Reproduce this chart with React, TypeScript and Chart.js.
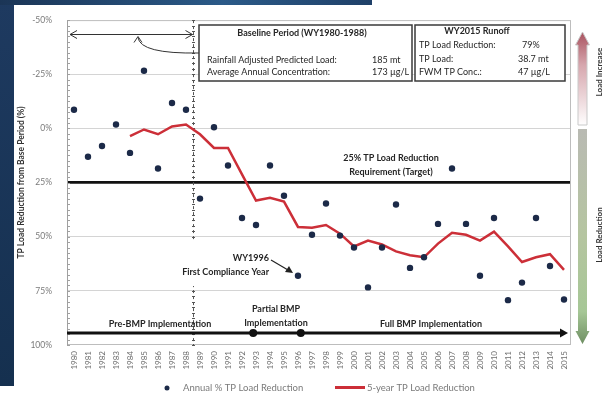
import React, { useEffect, useRef } from 'react';
import { Chart, registerables } from 'chart.js';

Chart.register(...registerables);

const years = ['1980', '1981', '1982', '1983', '1984', '1985', '1986', '1987', '1988', '1989',
  '1990', '1991', '1992', '1993', '1994', '1995', '1996', '1997', '1998', '1999',
  '2000', '2001', '2002', '2003', '2004', '2005', '2006', '2007', '2008', '2009',
  '2010', '2011', '2012', '2013', '2014', '2015'];

const annualReduction = [-8.6, 13.1, 8.1, -1.8, 11.3, -26.6, 18.5, -11.7, -8.6, 32.4,
  -0.5, 17.1, 41.4, 44.6, 17.1, 31.1, 68, 49.1, 34.7, 49.5,
  55, 73.4, 55, 35.1, 64.4, 59.5, 44.1, 18.5, 44.1, 68,
  41.4, 79.3, 71.2, 41.4, 63.5, 79];

const fiveYearReduction = [null, null, null, null, 3.6, 0.5, 2.7, -0.9, -1.8, 2.7,
  9, 9, 21.2, 33.3, 32, 33.8, 45.5, 45.9, 44.6, 48.6,
  54.5, 51.8, 53.6, 56.8, 58.6, 59.5, 53.2, 48.2, 49.1, 51.8,
  47.7, 54.5, 61.7, 59.5, 58.1, 65.3];

const yTicks = [-50, -25, 0, 25, 50, 75, 100];
const targetValue = 25;
const timelineValue = 94.5;
const baselineEndIndex = 8.5;
const partialStartIndex = 12.8;
const fullStartIndex = 16.2;

const FONT = 'Lato, "Liberation Sans", Arial, sans-serif';

function font(size: number, bold = false) {
  return `${bold ? 'bold ' : ''}${size}px ${FONT}`;
}

const overlay = {
  id: 'overlay',
  beforeDatasetsDraw(chart: any) {
    const { ctx, chartArea: a, scales } = chart;
    const x = scales.x;
    const y = scales.y;
    ctx.save();
    ctx.strokeStyle = '#bdbdbd';
    ctx.lineWidth = 1;
    ctx.strokeRect(a.left + 0.5, a.top + 0.5, a.width - 1, a.height - 1);
    ctx.strokeStyle = '#a0a0a0';
    ctx.beginPath();
    ctx.moveTo(a.left + 0.5, a.top);
    ctx.lineTo(a.left + 0.5, a.bottom);
    ctx.stroke();
    for (let v = -50; v <= 100; v += 2.5) {
      const py = Math.round(y.getPixelForValue(v)) + 0.5;
      ctx.beginPath();
      ctx.moveTo(a.left, py);
      ctx.lineTo(a.left + 3, py);
      ctx.stroke();
    }
    const xd = Math.round(x.getPixelForValue(baselineEndIndex)) + 0.5;
    ctx.strokeStyle = '#555';
    ctx.setLineDash([3, 3]);
    ctx.beginPath();
    ctx.moveTo(xd, a.top);
    ctx.lineTo(xd, a.bottom);
    ctx.stroke();
    ctx.setLineDash([]);
    for (let v = -50; v <= 100; v += 2.5) {
      const py = Math.round(y.getPixelForValue(v)) + 0.5;
      ctx.beginPath();
      ctx.moveTo(xd - 1.5, py);
      ctx.lineTo(xd + 1.5, py);
      ctx.stroke();
    }

    const ya = Math.round(y.getPixelForValue(-43.5)) + 0.5;
    const xl = a.left + 3;
    const xr = xd - 1;
    ctx.strokeStyle = '#333';
    ctx.lineWidth = 1;
    ctx.beginPath();
    ctx.moveTo(xl, ya);
    ctx.lineTo(xr, ya);
    ctx.moveTo(xl + 7, ya - 4);
    ctx.lineTo(xl, ya);
    ctx.lineTo(xl + 7, ya + 4);
    ctx.moveTo(xr - 7, ya - 4);
    ctx.lineTo(xr, ya);
    ctx.lineTo(xr - 7, ya + 4);
    ctx.stroke();

    ctx.beginPath();
    ctx.moveTo(199, 53);
    ctx.quadraticCurveTo(140, 54, 138, ya + 3);
    ctx.moveTo(134, ya + 8);
    ctx.lineTo(138, ya + 2);
    ctx.lineTo(142, ya + 8);
    ctx.stroke();

    const yt = y.getPixelForValue(timelineValue);
    const xend = x.getPixelForValue(years.length - 1) + 4;
    ctx.strokeStyle = '#111';
    ctx.lineWidth = 3;
    ctx.beginPath();
    ctx.moveTo(a.left, yt);
    ctx.lineTo(xend - 6, yt);
    ctx.stroke();
    ctx.fillStyle = '#111';
    ctx.beginPath();
    ctx.moveTo(xend, yt);
    ctx.lineTo(xend - 8, yt - 4.5);
    ctx.lineTo(xend - 8, yt + 4.5);
    ctx.closePath();
    ctx.fill();
    [partialStartIndex, fullStartIndex].forEach((idx) => {
      ctx.beginPath();
      ctx.arc(x.getPixelForValue(idx), yt, 4, 0, Math.PI * 2);
      ctx.fill();
    });
    ctx.restore();
  },
  afterDatasetsDraw(chart: any) {
    const { ctx } = chart;
    ctx.save();
    ctx.fillStyle = '#262626';
    ctx.textBaseline = 'middle';

    ctx.fillStyle = '#fff';
    ctx.fillRect(199, 25, 213, 56);
    ctx.strokeStyle = '#3a3a3a';
    ctx.lineWidth = 1.5;
    ctx.strokeRect(199, 25, 213, 56);
    ctx.fillStyle = '#262626';
    ctx.textAlign = 'center';
    ctx.font = font(9, true);
    ctx.fillText('Baseline Period (WY1980-1988)', 302, 33);
    ctx.font = font(9);
    ctx.textAlign = 'left';
    ctx.fillText('Rainfall Adjusted Predicted Load:', 207, 60);
    ctx.fillText('Average Annual Concentration:', 207, 72);
    ctx.fillText('185 mt', 372, 60);
    ctx.fillText('173 \u00b5g/L', 372, 72);

    ctx.fillStyle = '#fff';
    ctx.fillRect(415, 25, 150, 56);
    ctx.strokeRect(415, 25, 150, 56);
    ctx.fillStyle = '#262626';
    ctx.textAlign = 'center';
    ctx.font = font(9, true);
    ctx.fillText('WY2015 Runoff', 477, 31);
    ctx.font = font(9);
    ctx.textAlign = 'left';
    ctx.fillText('TP Load Reduction:', 419, 45);
    ctx.fillText('TP Load:', 419, 59);
    ctx.fillText('FWM TP Conc.:', 419, 72);
    ctx.fillText('79%', 522, 45);
    ctx.fillText('38.7 mt', 518, 59);
    ctx.fillText('47 \u00b5g/L', 518, 72);

    ctx.textAlign = 'center';
    ctx.font = font(9, true);
    ctx.fillText('25% TP Load Reduction', 391, 158);
    ctx.fillText('Requirement (Target)', 391, 172);

    ctx.fillStyle = '#fff';
    ctx.fillRect(172, 241, 100, 45);
    ctx.fillStyle = '#262626';
    ctx.textAlign = 'right';
    ctx.font = font(9, true);
    ctx.fillText('WY1996', 269, 258);
    ctx.fillText('First Compliance Year', 269, 272);
    ctx.strokeStyle = '#222';
    ctx.lineWidth = 1.2;
    ctx.beginPath();
    ctx.moveTo(271, 260);
    ctx.lineTo(288, 270);
    ctx.stroke();
    ctx.fillStyle = '#222';
    ctx.beginPath();
    ctx.moveTo(293, 273);
    ctx.lineTo(285, 272);
    ctx.lineTo(289, 266);
    ctx.closePath();
    ctx.fill();

    ctx.fillStyle = '#262626';
    ctx.textAlign = 'center';
    ctx.font = font(9, true);
    ctx.fillText('Pre-BMP Implementation', 160, 324);
    ctx.fillText('Partial BMP', 276, 309);
    ctx.fillText('Implementation', 276, 323);
    ctx.fillText('Full BMP Implementation', 431, 324);
    ctx.restore();
  },
  afterDraw(chart: any) {
    const { ctx } = chart;
    ctx.save();
    ctx.textBaseline = 'middle';
    ctx.fillStyle = '#1c2a48';
    ctx.beginPath();
    ctx.arc(167, 388, 2.5, 0, Math.PI * 2);
    ctx.fill();
    ctx.fillStyle = '#7a7a7a';
    ctx.font = font(9.5);
    ctx.textAlign = 'left';
    ctx.fillText('Annual % TP Load Reduction', 183, 388);
    ctx.strokeStyle = '#cc2f38';
    ctx.lineWidth = 3;
    ctx.beginPath();
    ctx.moveTo(335, 387.5);
    ctx.lineTo(365, 387.5);
    ctx.stroke();
    ctx.fillText('5-year TP Load Reduction', 367, 388);

    const cx = 582.5;
    let g = ctx.createLinearGradient(0, 32, 0, 126);
    g.addColorStop(0, '#a9525f');
    g.addColorStop(0.35, '#d6a6ad');
    g.addColorStop(1, '#ffffff');
    ctx.fillStyle = g;
    ctx.beginPath();
    ctx.moveTo(cx, 32);
    ctx.lineTo(cx + 7, 45);
    ctx.lineTo(cx + 4.5, 45);
    ctx.lineTo(cx + 4.5, 125);
    ctx.lineTo(cx - 4.5, 125);
    ctx.lineTo(cx - 4.5, 45);
    ctx.lineTo(cx - 7, 45);
    ctx.closePath();
    ctx.fill();
    ctx.strokeStyle = '#c9c9c9';
    ctx.lineWidth = 1;
    ctx.stroke();

    g = ctx.createLinearGradient(0, 129, 0, 344);
    g.addColorStop(0, '#b9bab3');
    g.addColorStop(0.5, '#b5c5a0');
    g.addColorStop(0.85, '#a6c796');
    g.addColorStop(1, '#6f8f63');
    ctx.fillStyle = g;
    ctx.beginPath();
    ctx.moveTo(cx - 4.5, 129);
    ctx.lineTo(cx + 4.5, 129);
    ctx.lineTo(cx + 4.5, 331);
    ctx.lineTo(cx + 7, 331);
    ctx.lineTo(cx, 344);
    ctx.lineTo(cx - 7, 331);
    ctx.lineTo(cx - 4.5, 331);
    ctx.closePath();
    ctx.fill();

    ctx.fillStyle = '#333';
    ctx.font = font(8, true);
    ctx.textAlign = 'center';
    ctx.translate(599, 72);
    ctx.rotate(-Math.PI / 2);
    ctx.fillText('Load Increase', 0, 0);
    ctx.rotate(Math.PI / 2);
    ctx.translate(0, 163);
    ctx.rotate(-Math.PI / 2);
    ctx.fillText('Load Reduction', 0, 0);
    ctx.restore();
  },
};

export default function App() {
  const ref = useRef<HTMLCanvasElement | null>(null);

  useEffect(() => {
    if (!ref.current) return;
    const chart = new Chart(ref.current, {
      type: 'line',
      data: {
        labels: years,
        datasets: [
          {
            label: 'Annual % TP Load Reduction',
            data: annualReduction,
            showLine: false,
            pointRadius: 3.2,
            pointBackgroundColor: '#1c2a48',
            pointBorderColor: '#1c2a48',
            pointBorderWidth: 0,
            order: 1,
          },
          {
            label: '5-year TP Load Reduction',
            data: fiveYearReduction,
            borderColor: '#cc2f38',
            borderWidth: 2.5,
            pointRadius: 0,
            tension: 0,
            spanGaps: false,
            order: 2,
          },
        ],
      },
      options: {
        animation: false,
        responsive: false,
        devicePixelRatio: 1,
        layout: { padding: { left: 0, right: 45, top: 15, bottom: 30 } },
        plugins: { legend: { display: false }, tooltip: { enabled: false } },
        scales: {
          x: {
            type: 'category',
            offset: true,
            grid: { display: false, drawTicks: false },
            border: { display: false },
            ticks: {
              autoSkip: false,
              minRotation: 90,
              maxRotation: 90,
              padding: 6,
              color: '#6e6e6e',
              font: { family: FONT, size: 8 },
            },
            afterFit: (s: any) => {
              s.height = 29;
            },
          },
          y: {
            type: 'linear',
            reverse: true,
            min: -50,
            max: 100,
            afterBuildTicks: (s: any) => {
              s.ticks = yTicks.map((v) => ({ value: v }));
            },
            ticks: {
              callback: (v: any) => `${v}%`,
              padding: 15,
              color: '#7a7a7a',
              font: { family: FONT, size: 8.5 },
            },
            grid: {
              drawTicks: false,
              color: (c: any) => {
                const v = c.tick && c.tick.value;
                if (v === targetValue) return '#111';
                if (v === -50 || v === 100) return 'rgba(0,0,0,0)';
                return '#d4d4d4';
              },
              lineWidth: (c: any) => (c.tick && c.tick.value === targetValue ? 2.8 : 1),
            },
            border: { display: false },
            title: {
              display: true,
              text: 'TP Load Reduction from Base Period (%)',
              color: '#333',
              font: { family: FONT, size: 8.5, weight: 'bold' },
              padding: { top: 16, bottom: 0 },
            },
            afterFit: (s: any) => {
              s.width = 67;
            },
          },
        },
      },
      plugins: [overlay],
    });
    return () => chart.destroy();
  }, []);

  return (
    <div style={{ position: 'fixed', left: 0, top: 0, width: 616, height: 404, background: '#fff', overflow: 'hidden' }}>
      <div style={{ position: 'absolute', left: 0, top: 0, width: 14, height: 386, background: 'linear-gradient(180deg,#1e3a60,#15304f)' }} />
      <div style={{ position: 'absolute', left: 0, top: 0, width: 372, height: 5, background: 'linear-gradient(90deg,#1b3556,#2b5a88 60%,#1f4068)' }} />
      <canvas ref={ref} width={616} height={404} style={{ position: 'absolute', left: 0, top: 0, width: 616, height: 404 }} />
    </div>
  );
}
